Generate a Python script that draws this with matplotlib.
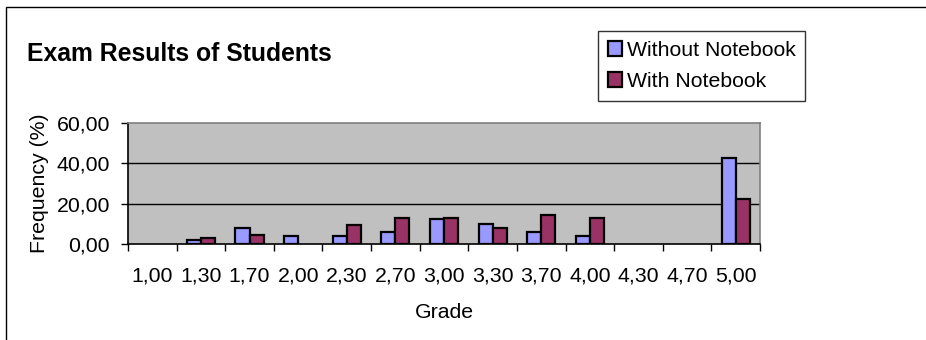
import numpy as np
import matplotlib
matplotlib.use("Agg")
import matplotlib.pyplot as plt
from matplotlib.patches import Rectangle, Patch
from matplotlib.ticker import FixedLocator, FixedFormatter

plt.rcParams['font.family'] = ['Liberation Sans', 'DejaVu Sans']

grades = ["1,00", "1,30", "1,70", "2,00", "2,30", "2,70", "3,00",
          "3,30", "3,70", "4,00", "4,30", "4,70", "5,00"]
without_notebook = [0.0, 2.0, 8.1, 4.0, 4.0, 6.0, 12.2, 10.1, 6.0, 4.1, 0.0, 0.0, 42.8]
with_notebook = [0.0, 3.1, 4.5, 0.0, 9.4, 12.9, 12.7, 7.9, 14.4, 12.7, 0.0, 0.0, 22.3]
y_ticks = [0, 20, 40, 60]
y_tick_labels = ["0,00", "20,00", "40,00", "60,00"]

BLUE = "#9999FF"
PLUM = "#993366"
GREY_BG = "#C0C0C0"
FS = 15.3

W, H = 926, 340
fig = plt.figure(figsize=(W / 100, H / 100), dpi=100)
fig.patch.set_facecolor("white")

# outer chart frame (extends past the right/bottom edges)
fig.patches.append(Rectangle((6 / W, -0.1), 1.2, (H - 7) / H + 0.1,
                             transform=fig.transFigure, fill=False,
                             edgecolor="black", linewidth=1.0, zorder=0))

ax = fig.add_axes([128 / W, 1 - 244 / H, (760 - 128) / W, (244 - 123) / H])
ax.set_facecolor(GREY_BG)

x = np.arange(len(grades))
bw = 0.29
wo = np.array(without_notebook)
wi = np.array(with_notebook)
m1 = wo > 0
m2 = wi > 0
ax.bar(x[m1] - bw / 2, wo[m1], width=bw, color=BLUE,
       edgecolor="black", linewidth=1.6, zorder=3)
ax.bar(x[m2] + bw / 2, wi[m2], width=bw, color=PLUM,
       edgecolor="black", linewidth=1.6, zorder=3)

ax.set_xlim(-0.5, len(grades) - 0.5)
ax.set_ylim(0, 60)

# gridlines
for v in y_ticks[1:-1]:
    ax.axhline(v, color="black", linewidth=1.0, zorder=1)

ax.spines["top"].set_color("#808080")
ax.spines["right"].set_color("#808080")
ax.spines["left"].set_color("black")
ax.spines["bottom"].set_color("black")
for s in ax.spines.values():
    s.set_linewidth(1.2)

ax.yaxis.set_major_locator(FixedLocator(y_ticks))
ax.yaxis.set_major_formatter(FixedFormatter(y_tick_labels))
ax.tick_params(axis="y", direction="out", length=5, width=1, pad=8,
               labelsize=FS)

# ticks at category boundaries, labels at category centres
ax.xaxis.set_major_locator(FixedLocator(np.arange(len(grades) + 1) - 0.5))
ax.xaxis.set_major_formatter(FixedFormatter([""] * (len(grades) + 1)))
ax.xaxis.set_minor_locator(FixedLocator(x))
ax.xaxis.set_minor_formatter(FixedFormatter(grades))
ax.tick_params(axis="x", which="major", direction="out", length=5, width=1)
ax.tick_params(axis="x", which="minor", length=0, pad=16, labelsize=FS)

ax.set_xlabel("Grade", fontsize=FS)
ax.xaxis.set_label_coords(0.5, -0.49)
ax.set_ylabel("Frequency (%)", fontsize=FS)
ax.yaxis.set_label_coords(-0.125, 0.5)

fig.text(27 / W, 1 - 54 / H, "Exam Results of Students", fontsize=17.8,
         fontweight="bold", va="center", ha="left")

handles = [Patch(facecolor=BLUE, edgecolor="black", linewidth=1.6),
           Patch(facecolor=PLUM, edgecolor="black", linewidth=1.6)]
leg = fig.legend(handles, ["Without Notebook", "With Notebook"],
                 loc="upper left", bbox_to_anchor=(598 / W, 1 - 31 / H),
                 fontsize=FS, frameon=True, fancybox=False,
                 handlelength=0.7, handleheight=0.7, handletextpad=0.2,
                 borderpad=0.45, labelspacing=0.6, borderaxespad=0)
leg.get_frame().set_edgecolor("black")
leg.get_frame().set_linewidth(1.0)

fig.savefig("out.png", dpi=100)
